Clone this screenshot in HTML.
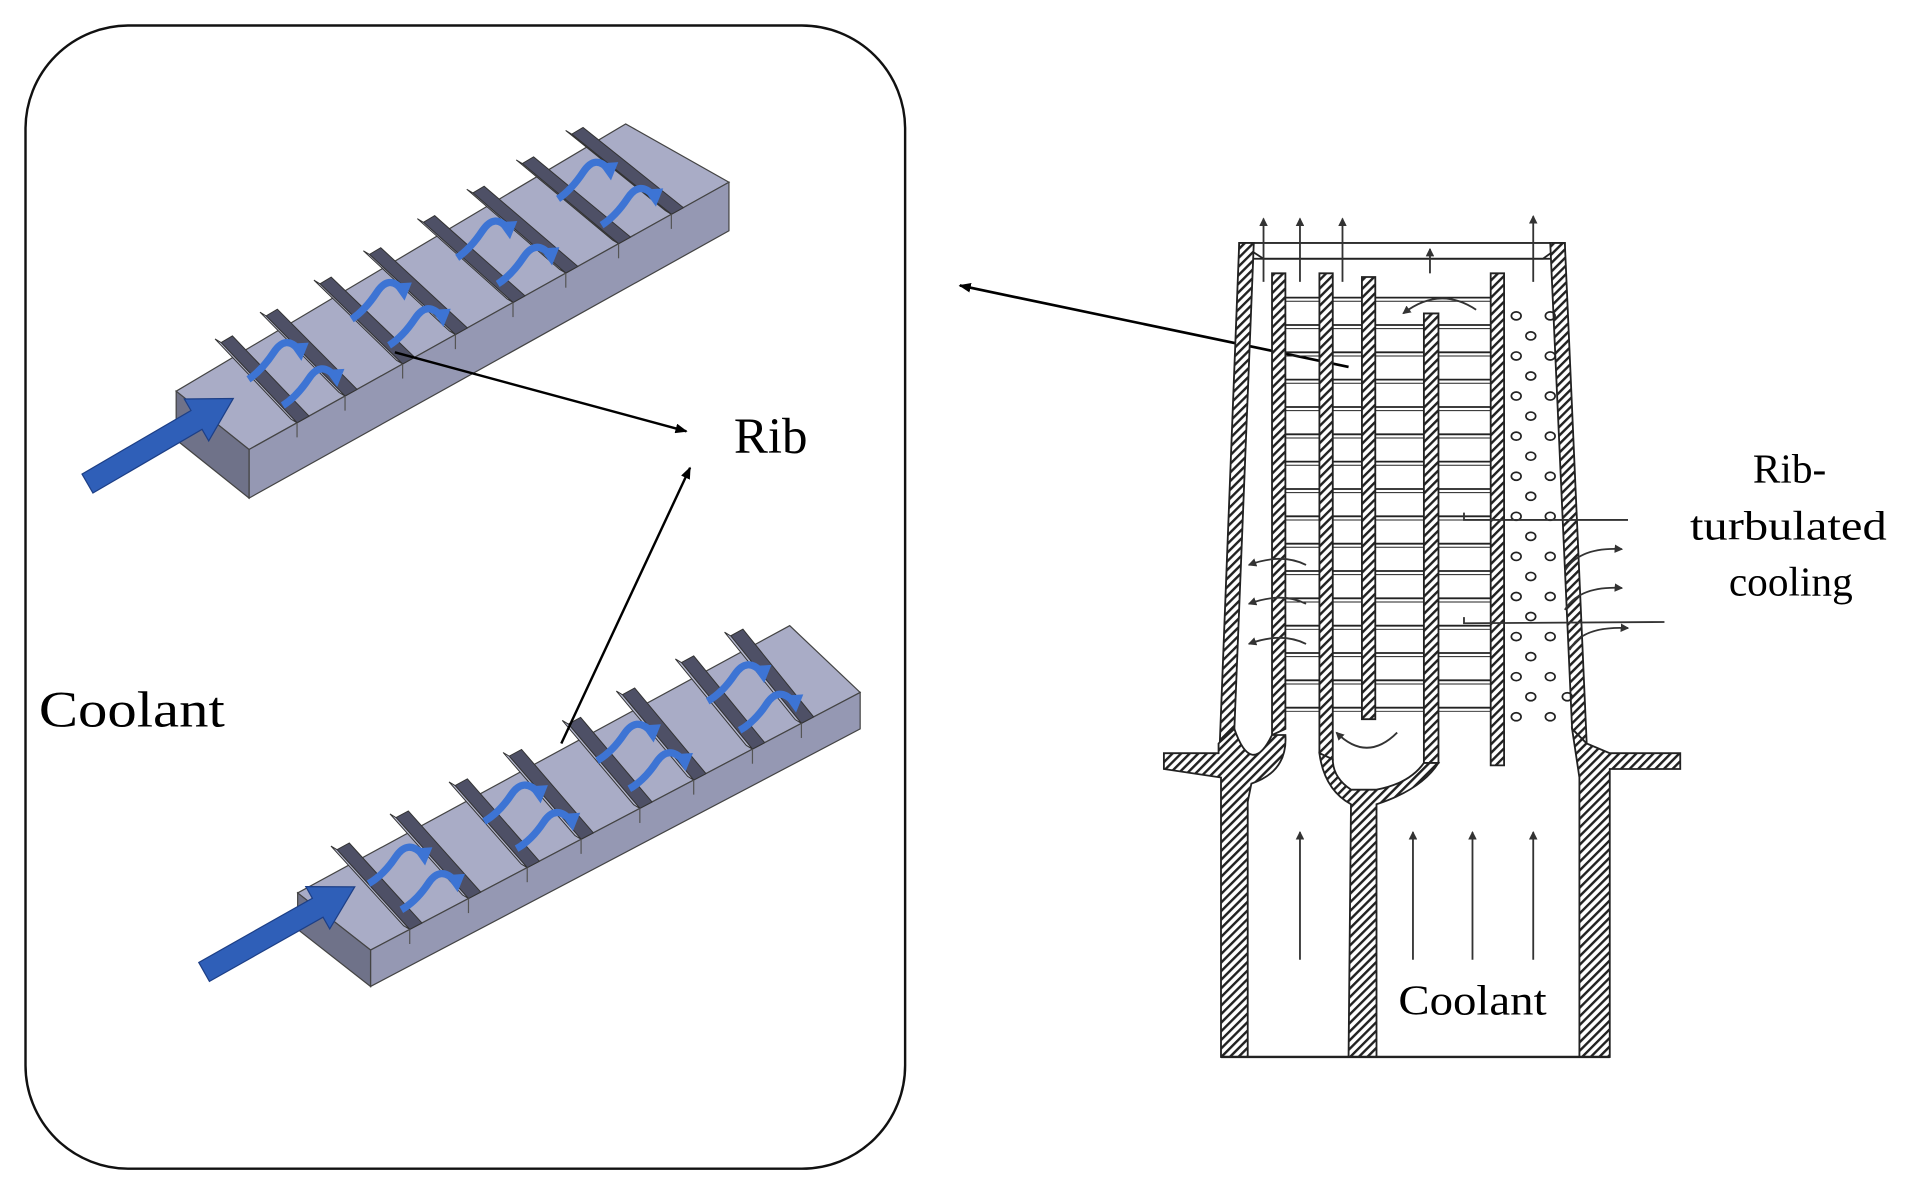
<!DOCTYPE html>
<html><head><meta charset="utf-8">
<style>
html,body{margin:0;padding:0;background:#fff;}
svg{display:block}
text{font-family:"Liberation Serif",serif;fill:#000}
</style></head>
<body>
<svg id="s" width="1905" height="1193" viewBox="0 0 1568 982" preserveAspectRatio="none" xmlns="http://www.w3.org/2000/svg">
<defs>
<pattern id="h" width="5" height="5" patternUnits="userSpaceOnUse" patternTransform="rotate(45)">
<rect width="5" height="5" fill="#fff"/><rect width="2" height="5" fill="#222"/>
</pattern>
<marker id="ar" markerWidth="10" markerHeight="8" refX="9" refY="4" orient="auto" markerUnits="userSpaceOnUse">
<path d="M0,0 L10,4 L0,8 z" fill="#000"/></marker>
<marker id="as" markerWidth="7" markerHeight="7" refX="6" refY="3.5" orient="auto" markerUnits="userSpaceOnUse">
<path d="M0,0 L7,3.5 L0,7 z" fill="#333"/></marker>
</defs>
<rect x="21" y="21" width="724" height="941" rx="85" ry="85" fill="none" stroke="#111" stroke-width="2"/>
<g id="bars"></g>
<line x1="325" y1="290" x2="565" y2="355" stroke="#000" stroke-width="2" marker-end="url(#ar)"/>
<line x1="462" y1="612" x2="568" y2="385" stroke="#000" stroke-width="2" marker-end="url(#ar)"/>
<text x="604" y="373" font-size="42">Rib</text>
<text x="32" y="598" font-size="42" textLength="153" lengthAdjust="spacingAndGlyphs">Coolant</text>
<line x1="1110" y1="302" x2="790" y2="235" stroke="#000" stroke-width="2.2" marker-end="url(#ar)"/>
<g id="blade" stroke="#222" stroke-width="1.5">
<g id="ribs"></g>
<rect x="1020" y="200" width="268" height="13" fill="#fff"/>
<path d="M1040,213 L1270,213 L1288,200 M1040,213 L1020,200" fill="none"/>
<polygon points="1020,200 1032,200 1016,600 1004,612" fill="url(#h)"/>
<polygon points="1276,200 1288,200 1306,612 1294,600" fill="url(#h)"/>
<polygon points="1047,225 1058,225 1058,600 1047,605" fill="url(#h)"/>
<polygon points="1086,225 1097,225 1097,625 1086,620" fill="url(#h)"/>
<polygon points="1121,228 1132,228 1132,592 1121,592" fill="url(#h)"/>
<polygon points="1172,258 1184,258 1184,628 1172,628" fill="url(#h)"/>
<polygon points="1227,225 1238,225 1238,630 1227,630" fill="url(#h)"/>
<path d="M958,620 L1003,620 L1003,612 L1016,600 Q1030,640 1047,605 L1058,605 Q1060,635 1030,645 L1027,660 L1027,870 L1005,870 L1005,640 L958,633 Z" fill="url(#h)"/>
<path d="M1086,620 Q1090,650 1112,662 L1110,870 L1133,870 L1133,662 Q1170,650 1184,628 L1172,628 Q1160,645 1133,650 L1112,650 Q1097,640 1097,625 Z" fill="url(#h)"/>
<path d="M1294,600 L1306,612 L1325,620 L1383,620 L1383,633 L1325,633 L1325,870 L1300,870 L1300,640 Z" fill="url(#h)"/>
<line x1="1005" y1="870" x2="1325" y2="870" stroke-width="2"/>
<g id="holes" fill="none" stroke-width="1.4"></g>
<g stroke="#333" stroke-width="1.5" fill="none">
<line x1="1040" y1="232" x2="1040" y2="180" marker-end="url(#as)"/>
<line x1="1070" y1="232" x2="1070" y2="180" marker-end="url(#as)"/>
<line x1="1105" y1="232" x2="1105" y2="180" marker-end="url(#as)"/>
<line x1="1262" y1="232" x2="1262" y2="178" marker-end="url(#as)"/>
<line x1="1177" y1="225" x2="1177" y2="205" marker-end="url(#as)"/>
<line x1="1070" y1="790" x2="1070" y2="685" marker-end="url(#as)"/>
<line x1="1163" y1="790" x2="1163" y2="685" marker-end="url(#as)"/>
<line x1="1212" y1="790" x2="1212" y2="685" marker-end="url(#as)"/>
<line x1="1262" y1="790" x2="1262" y2="685" marker-end="url(#as)"/>
<path d="M1215,255 Q1185,235 1155,258" marker-end="url(#as)"/>
<path d="M1150,600 Q1125,625 1100,600" transform="translate(0,3)" marker-end="url(#as)"/>
<path d="M1075,465 Q1055,455 1028,465" marker-end="url(#as)"/>
<path d="M1075,497 Q1055,487 1028,497" marker-end="url(#as)"/>
<path d="M1075,530 Q1055,520 1028,530" marker-end="url(#as)"/>
<path d="M1288,470 Q1300,450 1335,452" marker-end="url(#as)"/>
<path d="M1288,502 Q1300,482 1335,484" marker-end="url(#as)"/>
<path d="M1292,535 Q1302,515 1340,517" marker-end="url(#as)"/>
<path d="M1205,422 L1205,428 L1340,428"/>
<path d="M1205,508 L1205,513 L1370,512"/>
</g>
</g>
<text x="1473" y="397" font-size="34" text-anchor="middle">Rib-</text>
<text x="1472" y="444" font-size="34" text-anchor="middle" textLength="162" lengthAdjust="spacingAndGlyphs">turbulated</text>
<text x="1474" y="490" font-size="34" text-anchor="middle">cooling</text>
<text x="1212" y="835" font-size="35" text-anchor="middle" textLength="122" lengthAdjust="spacingAndGlyphs">Coolant</text>
</svg>
<script>
var NS="http://www.w3.org/2000/svg";
function el(p,t,a){var e=document.createElementNS(NS,t);for(var k in a)e.setAttribute(k,a[k]);p.appendChild(e);return e;}
function P(a){return a.map(function(p){return p[0].toFixed(1)+","+p[1].toFixed(1)}).join(" ");}
function L(a,b,t){return [a[0]+(b[0]-a[0])*t,a[1]+(b[1]-a[1])*t];}
var g=document.getElementById("bars");
function bar(A,B,C,D,th,ribs,arrow){
 var Dd=[D[0],D[1]+th],Cd=[C[0],C[1]+th],Ad=[A[0],A[1]+th];
 el(g,"polygon",{points:P([A,B,C,D]),fill:"#a9acc6",stroke:"#444","stroke-width":1});
 el(g,"polygon",{points:P([D,C,Cd,Dd]),fill:"#9598b3",stroke:"#444","stroke-width":1});
 el(g,"polygon",{points:P([A,D,Dd,Ad]),fill:"#6f7289",stroke:"#444","stroke-width":1});
 ribs.forEach(function(t){
  var p=L(A,B,t),q=L(D,C,t),p2=L(A,B,t+0.025),q2=L(D,C,t+0.025);
  el(g,"polygon",{points:P([[p[0],p[1]-18],[p2[0],p2[1]-18],q2,[q[0],q[1]]]),fill:"#4e5066",stroke:"#333","stroke-width":0.8});
  el(g,"polygon",{points:P([[p[0],p[1]-18],[p[0]-5,p[1]-21],[q[0]-5,q[1]-3],[q[0],q[1]]]),fill:"#b4b7cf",stroke:"#333","stroke-width":0.8});
  el(g,"line",{x1:q[0],y1:q[1],x2:q[0],y2:q[1]+12,stroke:"#555","stroke-width":1});
 });
 for(var i=0;i<ribs.length-1;i+=2){
  var t=(ribs[i]+ribs[i+1])/2+0.01;
  [0.3,0.75].forEach(function(w){
   var a=L(L(A,D,w),L(B,C,w),t-0.05),b=L(L(A,D,w),L(B,C,w),t+0.06);
   var m=[(a[0]+b[0])/2,(a[1]+b[1])/2-10];
   el(g,"path",{d:"M"+a[0]+","+a[1]+" Q"+(m[0]-10)+","+(m[1]+15)+" "+m[0]+","+m[1]+" T"+b[0]+","+b[1],fill:"none",stroke:"#3d74d4","stroke-width":6});
   el(g,"polygon",{points:P([[b[0]+8,b[1]-6],[b[0]-8,b[1]-5],[b[0]+2,b[1]+9]]),fill:"#3d74d4"});
  });
 }
 var s=arrow[0],e=arrow[1],dx=e[0]-s[0],dy=e[1]-s[1],l=Math.hypot(dx,dy),ux=dx/l,uy=dy/l,nx=-uy,ny=ux;
 var hb=[e[0]-ux*35,e[1]-uy*35];
 el(g,"polygon",{points:P([[s[0]+nx*9,s[1]+ny*9],[hb[0]+nx*9,hb[1]+ny*9],[hb[0]+nx*20,hb[1]+ny*20],e,[hb[0]-nx*20,hb[1]-ny*20],[hb[0]-nx*9,hb[1]-ny*9],[s[0]-nx*9,s[1]-ny*9]]),fill:"#2f5fb8",stroke:"#1d3f86","stroke-width":1});
}
bar([145,322],[515,102],[600,150],[205,370],40,[0.1,0.2,0.32,0.43,0.55,0.66,0.77,0.88],[[72,398],[192,328]]);
bar([245,735],[650,515],[708,570],[305,782],30,[0.08,0.2,0.32,0.43,0.55,0.66,0.78,0.88],[[168,800],[292,730]]);
var r=document.getElementById("ribs");
for(var y=245;y<=592;y+=22.5){el(r,"line",{x1:1058,y1:y,x2:1227,y2:y});el(r,"line",{x1:1058,y1:y+3,x2:1227,y2:y+3,"stroke-width":0.8});}
var h=document.getElementById("holes");
for(var j=0;j<21;j++){var y=260+j*16.5;var xs=j%2?[1260,1290]:[1248,1276];
 xs.forEach(function(x){if(x<1276+(y-200)*0.04)el(h,"ellipse",{cx:x,cy:y,rx:4,ry:3.3});});}
</script>
</body></html>
